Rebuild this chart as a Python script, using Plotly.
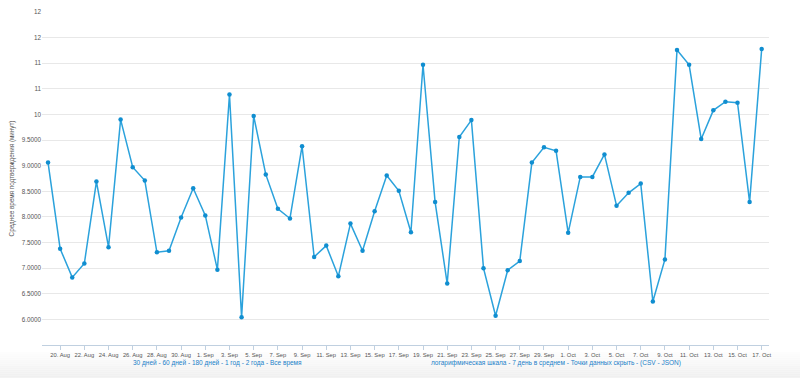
import datetime as dt
import plotly.graph_objects as go

# ---- data ----
start_date = dt.date(2014, 8, 19)
values = [
    9.06, 7.38, 6.82, 7.09, 8.69, 7.41, 9.90, 8.97, 8.71, 7.31,
    7.34, 7.99, 8.56, 8.03, 6.97, 10.39, 6.04, 9.97, 8.83, 8.16,
    7.97, 9.38, 7.22, 7.44, 6.84, 7.87, 7.34, 8.11, 8.81, 8.51,
    7.70, 10.97, 8.29, 6.70, 9.56, 9.89, 7.00, 6.07, 6.96, 7.14,
    9.06, 9.36, 9.29, 7.69, 8.78, 8.78, 9.22, 8.22, 8.47, 8.65,
    6.35, 7.17, 11.26, 10.97, 9.52, 10.08, 10.25, 10.23, 8.29, 11.28,
]
dates = [start_date + dt.timedelta(days=i) for i in range(len(values))]

y_tickvals = [6.0, 6.5, 7.0, 7.5, 8.0, 8.5, 9.0, 9.5, 10.0, 10.5, 11.0, 11.5, 12.0]
y_ticktext = ["6.0000", "6.5000", "7.0000", "7.5000", "8.0000", "8.5000",
              "9.0000", "9.5000", "10", "11", "11", "12", "12"]

x_tickvals = dates[1::2]
x_ticktext = [f"{d.day}. {d.strftime('%b')}" for d in x_tickvals]

y_title = "Среднее время подтверждения (минут)"
links_left = "30 дней - 60 дней - 180 дней - 1 год - 2 года - Все время"
links_right = "логарифмическая шкала - 7 день в среднем - Точки данных скрыть - (CSV - JSON)"

# ---- layout geometry ----
W, H = 800, 378
L, R, T, B = 42, 31, 8, 33
plot_w = W - L - R
plot_h = H - T - B

def px_x(px):
    return (px - L) / plot_w

def px_y(py):
    return (H - B - py) / plot_h

FONT = "Liberation Sans"

fig = go.Figure()
fig.add_trace(go.Scatter(
    x=dates, y=values, mode="lines+markers",
    line=dict(color="#2ba2dc", width=1.5),
    marker=dict(color="#108ed0", size=4.5),
    hoverinfo="x+y", showlegend=False,
))

shapes = []
# bottom light gradient band
steps = 14
for i in range(steps):
    y0 = 352 + i * 2
    y1 = y0 + 2
    g = int(255 - (255 - 239) * (i + 1) / steps)
    shapes.append(dict(
        type="rect", xref="paper", yref="paper", layer="below",
        x0=px_x(0), x1=px_x(W), y0=px_y(y1), y1=px_y(y0),
        fillcolor=f"rgb({g},{g},{g})", line=dict(width=0),
    ))

fig.update_layout(
    width=W, height=H,
    margin=dict(l=L, r=R, t=T, b=B, pad=0),
    paper_bgcolor="white", plot_bgcolor="white",
    shapes=shapes,
    xaxis=dict(
        range=[dt.datetime(2014, 8, 18, 12), dt.datetime(2014, 10, 17, 14, 30)],
        tickvals=x_tickvals, ticktext=x_ticktext, tickangle=0,
        showgrid=False, zeroline=False,
        showline=True, linecolor="#c0d0e0", linewidth=1,
        ticks="outside", ticklen=4, tickcolor="#c0d0e0",
        tickfont=dict(family=FONT, size=5.8, color="#555555"),
        fixedrange=True,
    ),
    yaxis=dict(
        range=[5.5, 12.0],
        tickvals=y_tickvals, ticktext=y_ticktext,
        showgrid=True, gridcolor="#e8e8e8", gridwidth=1,
        zeroline=False, showline=False, ticks="",
        tickfont=dict(family=FONT, size=6.3, color="#555555"),
        title=dict(text=y_title, font=dict(family=FONT, size=6.3, color="#555555"), standoff=6),
        fixedrange=True,
    ),
    annotations=[
        dict(text=links_left, xref="paper", yref="paper",
             x=px_x(217), y=px_y(363), showarrow=False,
             xanchor="center", yanchor="middle",
             font=dict(family=FONT, size=6.5, color="#1a7fc8")),
        dict(text=links_right, xref="paper", yref="paper",
             x=px_x(556), y=px_y(363), showarrow=False,
             xanchor="center", yanchor="middle",
             font=dict(family=FONT, size=6.5, color="#1a7fc8")),
    ],
)

fig.write_html("out.html")
